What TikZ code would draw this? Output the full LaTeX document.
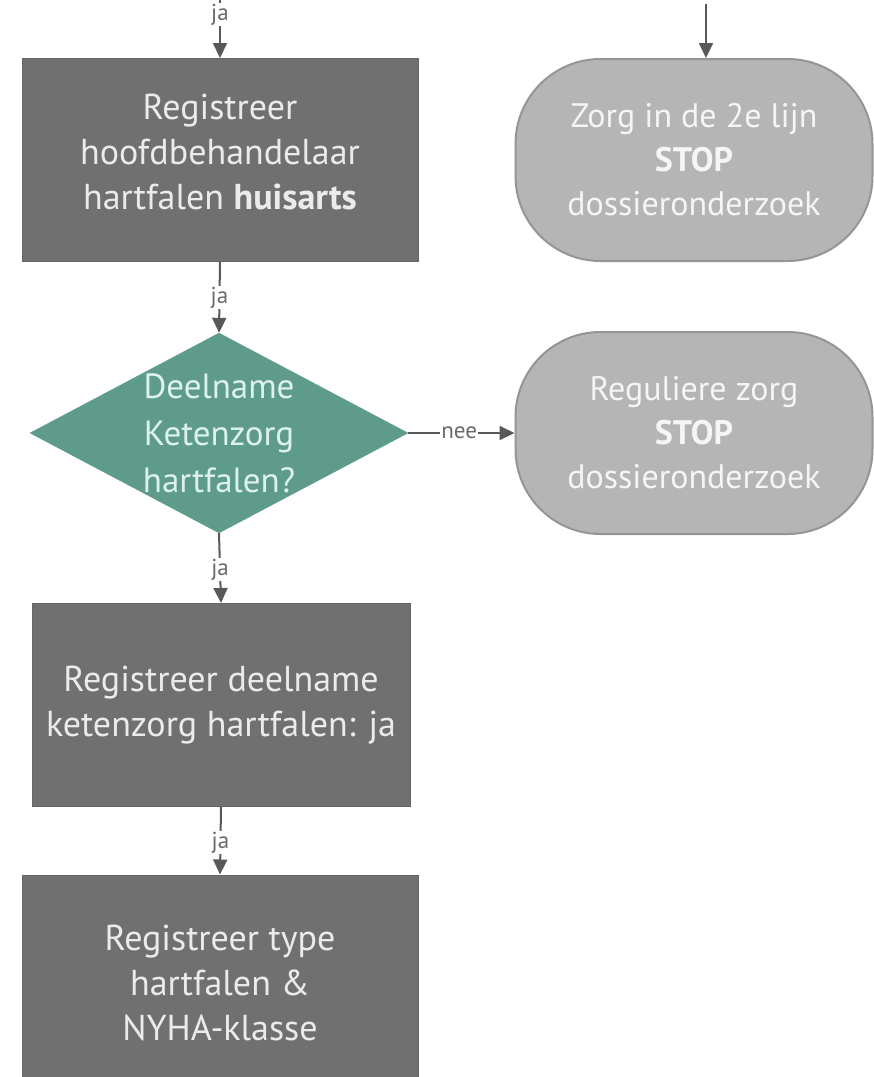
\documentclass[tikz,border=0pt]{standalone}
\usepackage{fontspec}
\setmainfont{PT Sans}
\usetikzlibrary{shapes.geometric,arrows.meta}
\definecolor{boxgray}{HTML}{707070}
\definecolor{boxedge}{HTML}{666666}
\definecolor{termfill}{HTML}{B5B5B5}
\definecolor{termedge}{HTML}{959595}
\definecolor{teal}{HTML}{5E9B8B}
\definecolor{tealtext}{HTML}{DDF2EA}
\definecolor{arrowgray}{HTML}{595959}
\definecolor{labgray}{HTML}{6A6A6A}
\begin{document}
\begin{tikzpicture}[x=1pt,y=-1pt,
  procbox/.style={rectangle, fill=boxgray, draw=boxedge, line width=1pt, text=white!92!black,
    align=center, font=\fontsize{36}{45}\selectfont, inner sep=0pt},
  proctext/.style={text=white!92!black, align=center, font=\fontsize{36}{45}\selectfont},
  termbox/.style={rectangle, rounded corners=85pt, fill=termfill, draw=termedge, line width=2pt,
    text=white!96!black, align=center, font=\fontsize{34}{44}\selectfont, inner sep=0pt,
    minimum width=357pt, minimum height=202pt},
  decision/.style={diamond, fill=teal, draw=teal, inner sep=0pt, minimum width=378pt, minimum height=200pt},
  flow/.style={draw=arrowgray, line width=2pt, -{Triangle[length=15pt,width=14pt]}},
  lab/.style={fill=white, text=labgray, font=\fontsize{23}{23}\selectfont, inner sep=1pt}
]
\useasboundingbox (0,0) rectangle (874,1077);

\node[procbox, minimum width=396pt, minimum height=203pt,
  label={[proctext, yshift=8pt]center:Registreer\\hoofdbehandelaar\\hartfalen \textbf{huisarts}}] (b1) at (220,160) {};
\node[termbox] (t1) at (694,160) {Zorg in de 2e lijn\\\textbf{STOP}\\dossieronderzoek};

\node[decision, label={[text=tealtext, align=center, font=\fontsize{35}{47}\selectfont]center:Deelname\\Ketenzorg\\hartfalen?}] (d) at (219,433) {};
\node[termbox] (t2) at (694,433) {Reguliere zorg\\\textbf{STOP}\\dossieronderzoek};

\node[procbox, minimum width=378pt, minimum height=203pt] (b3) at (221,705)
  {Registreer deelname\\ketenzorg hartfalen: ja};
\node[procbox, minimum width=396pt, minimum height=216pt] (b4) at (220,983)
  {Registreer type\\hartfalen \&\\NYHA-klasse};

\coordinate (s1) at (220,-12);
\coordinate (s2) at (706,4);

\draw[flow] (s1) -- node[lab, pos=0.38] {ja} (b1.north);
\draw[flow] (s2) -- (s2 |- t1.north);
\draw[flow] (b1.south) -- node[lab, pos=0.5] {ja} (d.north);
\draw[flow] (d.east) -- node[lab, pos=0.48] {nee} (t2.west);
\draw[flow] (d.south) -- node[lab, pos=0.52] {ja} (b3.north);
\draw[flow] (b3.south) -- node[lab, pos=0.53] {ja} (b4.north);
\end{tikzpicture}
\end{document}
